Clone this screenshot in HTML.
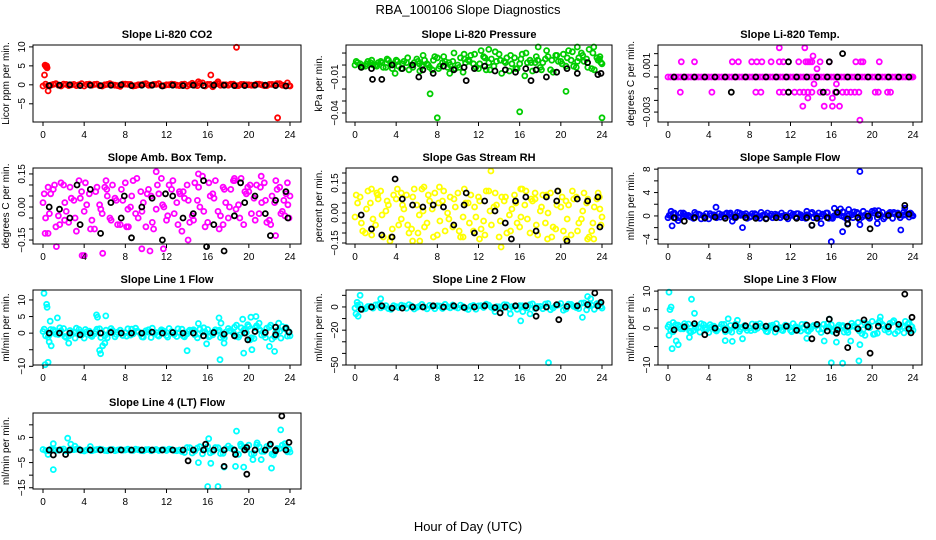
<!DOCTYPE html>
<html><head><meta charset="utf-8"><style>
html,body{margin:0;padding:0;background:#fff;}
svg{display:block;font-family:"Liberation Sans",sans-serif;}
</style></head><body>
<svg id="chart" width="936" height="540" viewBox="0 0 936 540" xmlns="http://www.w3.org/2000/svg">
<rect x="0" y="0" width="936" height="540" fill="#fff"/>
<text x="468" y="14" text-anchor="middle" font-size="13">RBA_100106  Slope Diagnostics</text>
<text x="468" y="531" text-anchor="middle" font-size="13">Hour of Day (UTC)</text>
</svg>
<script>
const hoursA = [0,0.5,1,1.5,2,2.5,3,3.5,4,4.5,5,5.5,6,6.5,7,7.5,8,8.5,9,9.5,10,10.5,11,11.5,12,12.5,13,13.5,14,14.5,15,15.5,16,16.5,17,17.5,18,18.5,19,19.5,20,20.5,21,21.5,22,22.5,23,23.5,24];
const hoursB = [0.25,0.75,1.25,1.75,2.25,2.75,3.25,3.75,4.25,4.75,5.25,5.75,6.25,6.75,7.25,7.75,8.25,8.75,9.25,9.75,10.25,10.75,11.25,11.75,12.25,12.75,13.25,13.75,14.25,14.75,15.25,15.75,16.25,16.75,17.25,17.75,18.25,18.75,19.25,19.75,20.25,20.75,21.25,21.75,22.25,22.75,23.25,23.75,23.9];
const hoursC = [0.12,0.62,1.12,1.62,2.12,2.62,3.12,3.62,4.12,4.62,5.12,5.62,6.12,6.62,7.12,7.62,8.12,8.62,9.12,9.62,10.12,10.62,11.12,11.62,12.12,12.62,13.12,13.62,14.12,14.62,15.12,15.62,16.12,16.62,17.12,17.62,18.12,18.62,19.12,19.62,20.12,20.62,21.12,21.62,22.12,22.62,23.12,23.62,23.8];
const hoursBlack = [0.6,1.6,2.6,3.6,4.6,5.6,6.6,7.6,8.6,9.6,10.6,11.6,12.6,13.6,14.6,15.6,16.6,17.6,18.6,19.6,20.6,21.6,22.6,23.6];
const xTicks = [0,4,8,12,16,20,24];

// P1 CO2
const co2A = [-0.3,-0.2,0.1,-0.1,0.2,-0.2,0.1,0,-0.3,0.2,0.1,-0.2,0,0.3,-0.1,-0.4,0.2,0.1,-0.2,0,0.3,-0.1,0.1,-0.2,0,0.2,-0.1,0.1,-0.3,0.4,-0.2,0.5,0.1,-0.5,0.3,0,-0.1,0.2,-0.2,0.1,0,-0.1,0.2,-0.2,0.1,0,0.3,-0.2,-0.3];
const co2B = [0.2,-0.1,0.3,-0.3,0.1,0,-0.2,0.3,0.1,-0.1,0.2,-0.3,0.1,0,-0.2,0.2,0.1,-0.3,0,0.2,-0.1,0.1,0.3,-0.2,0,0.1,-0.2,0.2,0,-0.1,0.4,-0.3,0.1,0.2,-0.1,0,0.2,-0.2,0.1,0,-0.1,0.2,0,-0.2,0.1,0.3,-0.1,0.5,-0.2];
const co2C = [];
const co2OutH = [0.2,0.3,0.35,0.4,0.15,0.5,16.3,18.8,22.8,15.1,17];
const co2OutV = [5.2,4.8,5.0,4.5,2.6,-1.6,2.6,9.9,-8.7,0.8,0.8];
const co2Black = [-0.2,-0.1,0,-0.2,-0.1,-0.2,-0.1,0,-0.2,-0.1,-0.1,-0.3,-0.1,-0.2,-0.1,-0.2,-0.1,-0.1,-0.2,-0.2,-0.1,-0.1,-0.2,-0.3];
const co2BOutH = [], co2BOutV = [];

// P2 Pressure
const presA = [0.000,0.001,-0.001,0.002,0.000,0.003,-0.002,0.001,0.004,-0.003,0.002,0.000,0.005,-0.001,0.001,-0.004,0.006,0.002,-0.002,0.003,0.000,-0.006,0.004,0.001,-0.003,0.007,0.002,-0.001,0.009,0.003,-0.005,0.006,0.001,-0.009,0.004,0.002,-0.002,0.005,-0.004,0.008,0.003,-0.001,0.004,-0.002,0.010,0.005,-0.003,0.006,0.001];
const presB = [0.002,-0.001,0.003,0.000,0.002,-0.002,0.004,0.001,-0.001,0.003,-0.004,0.002,0.001,0.004,-0.002,0.007,-0.001,0.003,0.000,-0.003,0.006,0.002,0.008,-0.002,0.012,-0.004,0.005,0.003,-0.007,0.006,0.001,-0.003,0.009,0.002,-0.005,0.004,0.002,0.007,-0.006,0.003,0.009,0.012,-0.001,0.006,0.003,0.013,-0.004,0.005,0.002];
const presC = [0.003,-0.002,0.001,0.004,-0.001,0.002,0.005,-0.003,0.003,0.001,0.006,-0.002,0.003,0.008,0.000,0.004,-0.003,0.007,0.002,0.010,-0.002,0.005,0.003,0.009,0.001,0.006,-0.004,0.011,0.004,0.002,0.008,-0.003,0.005,0.010,0.002,0.007,-0.004,0.012,0.004,0.008,0.001,0.006,0.011,0.003,0.008,-0.002,0.010,0.004,0.007];
const presOutH = [6.3,7.3,8.0,16,20.5,24,17.8,21.6,23.2,13,3.9,9.2,10.6];
const presOutV = [-0.005,-0.024,-0.044,-0.039,-0.022,-0.044,0.015,0.015,0.015,0.013,-0.007,-0.007,0.009];
const presBlack = [-0.002,-0.003,-0.012,0.000,-0.003,0.000,-0.004,-0.007,-0.001,-0.004,-0.002,-0.003,-0.001,-0.005,-0.004,-0.006,-0.003,-0.004,-0.010,-0.006,-0.003,-0.007,0.002,-0.008];
const presBOutH = [1.7,10.8,17.1,6.2,23.9], presBOutV = [-0.012,-0.013,-0.013,-0.010,-0.007];

// P3 Li-820 temp
const tempA = [0,0,0,0,0,0,0,0,0,0,0,0,0,0,0,0,0,0,0,0,0,0,0,0,0,0,0,0,0,0,0,0,0,0,0,0,0,0,0,0,0,0,0,0,0,0,0,0,0];
const tempB = [0,0,0,0,0,0,0,0,0,0,0,0,0,0,0,0,0,0,0,0,0,0,0,0,0,0,0,0,0,0,0,0,0,0,0,0,0,0,0,0,0,0,0,0,0,0,0,0,0];
const tempC = [];
const tempOutH = [1.3,2.6,6.3,6.9,8.2,8.7,9.2,10.1,10.9,11.3,12.8,13.5,13.7,13.9,14.1,14.9,15.8,18.4,18.9,19.1,20.7,1.2,4.3,8.6,9.1,10.9,11.3,11.8,12.4,12.9,13.3,13.7,14.1,14.9,15.6,16.4,17.1,17.5,17.9,18.3,18.7,20.3,20.6,21.5,21.8,10.9,13.4,14.2,14.6,14.3,13.7,16.1,13.2,15.3,16.1,16.8,16.5,18.8];
const tempOutV = [0.0013,0.0013,0.0013,0.0013,0.0013,0.0013,0.0013,0.0013,0.0013,0.0013,0.0013,0.0013,0.0013,0.0013,0.0013,0.0013,0.0013,0.0013,0.0013,0.0013,0.0013,-0.0013,-0.0013,-0.0013,-0.0013,-0.0013,-0.0013,-0.0013,-0.0013,-0.0013,-0.0013,-0.0013,-0.0013,-0.0013,-0.0013,-0.0013,-0.0013,-0.0013,-0.0013,-0.0013,-0.0013,-0.0013,-0.0013,-0.0013,-0.0013,0.0025,0.0025,0.0018,0.0007,-0.0006,-0.0018,-0.0018,-0.0025,-0.0025,-0.0025,-0.0025,-0.0006,-0.0037];
const tempBlack = [0,0,0,0,0,0,0,0,0,0,0,0,0,0,0,0,0,0,0,0,0,0,0,0];
const tempBOutH = [6.2,11.8,15.2,16.5,11.8,15.8,17.1], tempBOutV = [-0.0013,-0.0013,-0.0013,-0.0013,0.0013,0.0013,0.0020];

// P4 Amb box temp
const ambA = [0.02,-0.12,0.08,-0.04,0.10,-0.07,0.03,0.12,-0.02,0.06,-0.10,0.01,0.09,-0.05,0.04,-0.08,0.11,0.00,-0.03,0.07,-0.09,0.05,-0.01,0.13,-0.06,0.08,0.02,-0.11,0.10,-0.04,0.03,0.14,-0.07,0.06,-0.02,0.09,-0.05,0.12,0.01,-0.08,0.07,0.04,-0.03,0.11,-0.06,0.02,0.09,-0.04,0.05];
const ambB = [-0.05,0.06,-0.09,0.11,-0.02,0.04,-0.11,0.07,0.01,-0.06,0.09,-0.03,0.05,0.10,-0.08,0.03,-0.01,0.12,-0.05,0.02,0.08,-0.10,0.06,0.00,0.10,-0.03,0.07,0.04,-0.07,0.11,0.00,-0.09,0.05,0.12,-0.04,0.02,0.08,-0.01,0.13,0.06,-0.03,0.10,0.02,-0.07,0.05,0.08,-0.02,0.11,-0.05];
const ambC = [0.06,-0.03,0.10,-0.08,0.02,0.09,-0.05,0.04,0.11,-0.10,0.07,-0.01,0.12,-0.06,0.03,0.08,-0.09,0.05,0.13,-0.02,0.06,-0.07,0.10,0.01,-0.04,0.12,-0.08,0.07,0.03,-0.06,0.09,-0.02,0.11,0.04,-0.10,0.08,0.00,0.12,-0.05,0.07,0.10,-0.06,0.09,0.03,-0.08,0.12,-0.03,0.06,0.01];
const ambOutH = [0.2,1.3,3.8,4.0,5.8,11.0,9.6,10.4,11.7,15.1,18.6,21.2,14.1,22.6,0.5,2.1,6.2,8.3,13.3,17.5,19.9,23.4];
const ambOutV = [-0.12,-0.18,-0.22,-0.22,-0.21,0.16,-0.19,-0.2,-0.19,0.15,0.13,0.14,-0.15,-0.13,0.09,-0.06,0.08,-0.09,0.06,-0.08,0.09,0.03];
const ambBlack = [0.00,-0.01,-0.05,-0.08,0.08,-0.12,0.02,-0.05,-0.14,0.00,0.04,-0.15,0.05,-0.05,-0.03,0.12,-0.08,-0.20,-0.04,0.02,0.05,-0.03,0.03,0.07];
const ambBOutH = [3.3,7.9,11.9,15.9,19.2,22.1,23.8], ambBOutV = [0.10,0.05,0.06,-0.18,0.11,-0.13,-0.05];

// P5 RH
const rhA = [-0.02,0.08,-0.10,0.05,-0.06,0.11,0.01,-0.12,0.07,-0.03,0.09,-0.08,0.04,0.12,-0.05,0.02,-0.11,0.06,0.00,-0.07,0.10,-0.02,0.05,-0.09,0.08,-0.04,0.11,0.03,-0.12,0.06,-0.01,0.09,-0.07,0.04,-0.10,0.07,0.01,-0.05,0.10,-0.08,0.03,0.06,-0.11,0.08,-0.03,0.05,-0.09,0.07,-0.02];
const rhB = [0.05,-0.09,0.11,-0.03,0.07,-0.12,0.04,0.09,-0.06,0.02,-0.10,0.12,-0.01,-0.07,0.06,0.10,-0.04,-0.09,0.08,0.03,-0.12,0.05,0.09,-0.02,-0.08,0.11,-0.06,0.04,0.08,-0.10,0.02,-0.05,0.12,-0.03,0.06,-0.11,0.09,0.00,-0.07,0.11,-0.09,0.04,0.07,-0.05,0.10,-0.12,0.03,0.08,-0.06];
const rhC = [0.09,-0.05,0.02,-0.11,0.10,-0.01,0.06,-0.08,0.12,0.04,-0.06,0.08,-0.10,0.01,0.09,-0.12,0.05,0.11,-0.03,0.07,-0.09,0.12,-0.05,0.03,0.06,-0.11,0.01,0.10,-0.04,0.08,-0.09,0.05,-0.02,0.11,0.07,-0.06,0.03,0.09,-0.12,0.04,0.08,-0.03,0.11,-0.09,0.01,0.07,-0.05,0.10,0.02];
const rhOutH = [13.2,14.2,6.7,1.6,8.2,3.4,5.6,6.3,10.5,12.1,18.7,20.5,22.6,23.2,4.5,16.1,17.5,2.2];
const rhOutV = [0.21,-0.17,0.13,0.12,0.13,-0.14,-0.14,-0.14,-0.12,-0.13,-0.13,-0.13,-0.13,-0.13,0.10,0.12,0.10,0.09];
const rhBlack = [-0.01,-0.08,-0.11,-0.12,0.07,0.04,0.03,0.04,0.03,-0.06,0.04,-0.10,0.06,0.01,-0.05,0.06,0.08,-0.09,0.08,0.06,-0.14,0.07,0.06,0.08];
const rhBOutH = [3.9,10.8,19.7,15.2,23.8], rhBOutV = [0.17,0.10,0.11,-0.13,-0.07];

// P6 Sample flow
const sfA = [-0.3,0.4,-0.2,0.5,0.1,-0.4,0.3,0.0,-0.5,0.2,0.4,-0.1,0.3,-0.3,0.5,0.1,-0.2,0.4,-0.4,0.2,0.0,0.3,-0.3,0.1,0.5,-0.2,0.2,-0.4,0.4,0.1,-0.1,0.5,-0.3,0.3,0.0,-0.5,0.2,0.6,-0.2,0.4,0.8,-0.3,0.6,0.2,-0.4,0.5,0.1,0.3,0.0];
const sfB = [0.2,-0.4,0.5,0.0,-0.2,0.3,-0.5,0.4,0.1,-0.3,0.2,0.5,-0.1,0.0,0.3,-0.4,0.4,-0.2,0.1,0.5,-0.3,0.2,0.0,-0.5,0.3,0.4,-0.1,0.1,-0.3,0.5,0.2,-0.4,0.0,0.4,-0.2,0.3,0.7,-0.6,0.1,-0.4,0.9,0.3,-0.2,0.6,0.4,-0.3,0.2,0.5,0.1];
const sfC = [0.1,0.5,-0.3,0.3,-0.1,0.6,0.2,-0.4,0.4,0.0,-0.2,0.3,0.5,-0.3,0.1,0.4,-0.1,0.2,0.6,-0.4,0.3,0.0,0.5,-0.2,0.1,0.4,-0.3,0.2,0.6,-0.1,0.3,0.5,-0.4,0.2,0.7,0.0,-0.3,0.4,0.8,-0.2,0.5,0.9,-0.5,0.4,0.6,0.1,0.7,-0.2,0.4];
const sfOutH = [0.4,1.0,4.7,7.3,13.6,14.1,15,16,16.3,17.1,17.6,18.8,18.8,20.5,22.8,23.2,16.9,17.7,0.3,6.3,6.8];
const sfOutV = [-1.7,-0.8,1.5,-2,0.8,-1.6,-1.3,-4.4,1.3,-2.7,-1.3,7.6,-1.5,-1.3,-2.4,1.3,1.2,1.1,0.8,-0.9,0.6];
const sfBlack = [-0.3,-0.9,-0.3,-0.3,-0.2,-0.4,-0.2,-0.3,-0.4,-0.5,-0.3,-0.2,-0.4,-0.3,-0.4,-0.3,0.6,-0.5,-0.3,0.0,0.2,0.1,0.2,0.3];
const sfBOutH = [17.6,19.8,23.2,14.1], sfBOutV = [-1.4,-2.2,1.8,-1.6];

// P7 Line 1 flow
const l1A = [0.5,-1.2,1.0,-0.4,1.4,-0.9,0.3,1.1,-1.5,0.6,-0.2,1.3,-0.8,0.4,-1.1,0.9,0.1,-0.6,1.5,-0.3,0.7,-1.3,0.2,1.0,-0.7,0.5,-1.0,1.2,-0.2,0.8,-1.4,0.3,1.1,-0.5,0.6,-0.9,1.4,0.0,-1.2,0.9,2.0,-1.6,1.2,-0.4,1.8,-1.1,0.5,1.3,-0.8];
const l1B = [-0.8,1.1,-0.3,0.7,-1.3,0.2,1.5,-0.6,0.4,-1.0,1.2,0.0,-1.4,0.8,0.3,-0.7,1.3,-0.2,0.5,-1.2,1.0,0.1,-0.9,0.6,1.4,-0.4,0.2,-1.1,0.9,-0.5,1.2,0.4,-0.8,1.0,-1.3,0.3,0.7,-1.0,1.6,0.2,-1.4,2.2,-0.6,1.5,-1.8,0.8,2.0,-0.9,0.4];
const l1C = [1.2,-0.5,0.4,1.6,-1.0,0.8,-1.5,0.2,1.1,-0.7,0.5,-1.3,0.9,1.4,-0.4,0.1,-0.9,1.2,0.6,-1.1,0.3,1.5,-0.6,0.8,-1.2,0.2,1.3,-0.8,0.5,1.0,-0.3,1.6,-1.1,0.4,0.9,-1.5,0.7,1.8,-0.5,1.2,-2.0,1.6,0.8,-1.3,2.4,0.3,-1.5,1.7,0.6];
const l1OutH = [0.1,0.2,0.35,0.4,0.5,0.7,0.8,1.4,0.6,2.5,5.2,5.3,5.5,5.6,6.1,6.0,5.8,14,15.1,15.9,17.1,17.2,17.3,17.6,19.4,19.5,20.2,20.3,20.7,21,22,22.5,22.9,19.9,18.8];
const l1OutV = [12,-9.5,8.7,7.8,-8.8,3.6,-3.8,4.6,-2.6,-3,5.5,4.8,-5.2,-6.2,5.2,-3,-3.8,-5.3,2.9,-3.2,4.6,-8,3,-3,4.2,-6,4.8,-5,5.0,3,-4,-5.5,3,2.5,2.4];
const l1Black = [0,0,0,-0.5,0,0,0.2,0,0,0,0.3,0,0.2,0,0,-0.8,0.2,-0.3,-0.8,0,0.5,0.2,1.8,1.5];
const l1BOutH = [19.9,22.6,23.9], l1BOutV = [-2,-0.5,0.3];

// P8 Line 2 flow
const l2A = [-1,2,-1.5,0.5,1.8,-0.8,1.2,-2,0.3,1.5,-1.1,0.8,-0.4,2.2,-1.6,0.6,1.0,-1.3,0.2,1.7,-0.9,0.4,-2.2,1.3,0.9,-0.5,1.6,-1.2,0.1,2.0,-1.7,0.7,1.1,-0.3,1.9,-1.4,0.5,2.5,-2.4,1.0,3,-1.8,2.2,-0.6,3.2,-2.5,1.4,2.8,-1.0];
const l2B = [1.5,-2,0.4,-1.0,2.1,0.3,-1.4,1.1,-0.6,0.9,2.0,-1.8,0.5,-0.2,1.3,-1.5,0.8,2.3,-0.7,0.0,1.6,-1.1,0.6,-1.9,1.2,2.4,-0.4,0.3,-1.3,1.8,0.2,-2.0,1.0,-0.8,2.6,0.4,-1.5,3.0,-0.9,1.7,-2.8,2.4,0.6,-1.4,3.5,0.8,-2.0,2.9,0.5];
const l2C = [];
const l2OutH = [0.1,0.3,0.5,0.2,2.5,15.1,16.1,17,18.8,22.1,22.6,22.9,13.6,16.3];
const l2OutV = [-6,-8,10,4,7,-6,-12,-6,-48,-9,9,7,-4,-4];
const l2Black = [-2,0,1,-1,-1,0,0,1,0,1,-0.5,0,1,-0.5,0,1,1,-1,0,2,0.5,1,2,1];
const l2BOutH = [14.1,17.6,19.8,23.3,23.9], l2BOutV = [-5,-8,-11,12,4];

// P9 Line 3 flow
const l3A = [0.3,-1.0,0.8,-0.2,1.1,-0.7,0.2,0.9,-1.2,0.5,-0.1,1.0,-0.6,0.3,-0.9,0.7,0.0,-0.5,1.2,-0.2,0.6,-1.1,0.1,0.8,-0.6,0.4,-0.8,1.0,-0.2,0.6,-1.2,0.2,0.9,-0.4,0.5,-0.7,1.3,0.0,-1.5,0.7,1.8,-1.4,1.0,-0.3,1.6,-0.9,0.4,1.1,-0.6];
const l3B = [-0.6,0.9,-0.2,0.6,-1.1,0.1,1.2,-0.5,0.3,-0.8,1.0,0.0,-1.1,0.6,0.2,-0.6,1.1,-0.1,0.4,-1.0,0.8,0.0,-0.7,0.5,1.2,-0.3,0.1,-0.9,0.7,-0.4,1.0,0.3,-0.6,0.8,-1.1,0.2,0.6,-0.8,1.4,0.1,-1.6,2.0,-0.5,1.3,-1.5,0.6,1.8,-0.7,0.3];
const l3C = [0.9,-0.4,0.3,1.2,-0.8,0.6,-1.1,0.1,0.9,-0.5,0.3,-1.0,0.7,1.1,-0.3,0.1,-0.7,0.9,0.5,-0.9,0.2,1.2,-0.5,0.6,-1.0,0.1,1.0,-0.6,0.4,0.8,-0.2,1.2,-0.9,0.3,0.7,-1.2,0.5,1.5,-0.4,1.0,-1.7,1.4,0.6,-1.1,2.0,0.2,-1.3,1.4,0.5];
const l3OutH = [0.1,0.2,0.3,0.4,0.8,1.0,0.1,2.3,2.6,2.1,5.6,6.3,7.3,13.6,15.3,16,16.5,17.1,17.9,18.7,18.8,19.3,20.8,15.8,5.9,6.8,0.5];
const l3OutV = [9.7,5,5.7,-5.6,-3.5,-4.5,-2,7.8,4.0,-2.5,-3.4,-3.6,-2.9,-2.8,-3.5,-9.4,-3.8,-9.5,-3.5,-8.9,-4.5,-2,3,2.4,2.5,2.1,1.5];
const l3Black = [-0.5,0.3,1.2,-1.8,0.0,-0.5,0.7,0.6,0.5,0.5,-0.2,0.5,-0.6,0.8,1.0,-0.8,-0.5,0.5,-0.2,0.3,0.5,0.4,1.0,-0.2];
const l3BOutH = [14.1,17.6,19.8,23.2,23.9,23.8,19.2,16.5,15.8], l3BOutV = [-2.9,-5.3,-6.8,9.2,2.9,-1.3,2.2,-1.4,2.4];

// P10 Line 4 flow
const l4A = [0.2,-0.3,0.3,-0.1,0.4,-0.2,0.1,0.3,-0.4,0.2,0.0,0.3,-0.2,0.1,-0.3,0.2,0.0,-0.1,0.3,-0.2,0.1,-0.3,0.2,0.0,-0.2,0.1,-0.3,-0.6,1.0,-1.2,0.8,-1.5,1.4,-0.6,0.9,-1.3,1.6,0.2,-1.7,1.1,1.9,-1.4,1.3,-0.5,1.7,-1.0,0.6,1.2,-0.8];
const l4B = [-0.2,0.3,-0.1,0.2,-0.4,0.1,0.3,-0.2,0.0,-0.3,0.2,0.1,-0.3,0.2,0.0,-0.1,0.3,-0.2,0.1,-0.3,0.2,0.0,-0.2,0.1,0.3,-0.2,0.0,-1.0,0.9,-0.4,1.3,0.4,-1.1,1.0,-1.4,0.5,0.7,-1.2,1.5,0.2,-1.6,2.0,-0.5,1.4,-1.6,0.6,1.9,-0.7,0.3];
const l4C = [];
const l4OutH = [1.0,1.0,2.4,2.7,3.1,0.5,4.6,15.1,16,16.1,16.3,17,17.6,18.7,18.8,19.5,19.2,20.4,21.2,22.2,22.4,23.1,23.5,20.8];
const l4OutV = [2.5,-7.8,4.7,2.3,1.5,-1.8,1.4,-5,-14.5,4.5,-5.3,-14.5,-6.8,-6.5,7.5,-6.8,2.3,-3.8,-3.8,-7.2,-2,8,2.5,2.8];
const l4Black = [0,0,0,0,0,0,0,0,0,0,0,0,0,0,0,0,0,0,0,0,0,0,0,0];
const l4BOutH = [1.0,2.2,14.1,15.8,17.6,19.8,19.8,22.1,23.2,23.9,18.7,22.6], l4BOutV = [-2,-1.8,-4.3,2.3,-6.5,-9.6,1,2.3,13.5,3,-1.8,-0.3];

const cols = [[33,301,43,290],[346,612,355,602],[658,922,668,913]];
const rows = [[45,122],[168,244],[290,365],[413,489]];

const panels = [
 {id:'co2',title:'Slope Li-820 CO2',ylab:'Licor ppm per min.',c:0,r:0,dom:[10.5,-9.8],ticks:[-5,0,5,10],labels:{'10':'10','5':'5','0':'0','-5':'−5'},color:'#ff0000',A:co2A,B:co2B,C:co2C,oh:co2OutH,ov:co2OutV,blk:co2Black,bh:co2BOutH,bv:co2BOutV},
 {id:'pressure',title:'Slope Li-820 Pressure',ylab:'kPa per min.',c:1,r:0,dom:[0.0167,-0.0475],ticks:[0.01,0,-0.01,-0.02,-0.03,-0.04],labels:{'-0.01':'−0.01','-0.04':'−0.04'},color:'#00cd00',A:presA,B:presB,C:presC,oh:presOutH,ov:presOutV,blk:presBlack,bh:presBOutH,bv:presBOutV},
 {id:'li820-temp',title:'Slope Li-820 Temp.',ylab:'degrees C per min.',c:2,r:0,dom:[0.00274,-0.00385],ticks:[0.002,0.001,0,-0.001,-0.002,-0.003],labels:{'0.001':'0.001','-0.003':'−0.003'},color:'#ff00ff',A:tempA,B:tempB,C:tempC,oh:tempOutH,ov:tempOutV,blk:tempBlack,bh:tempBOutH,bv:tempBOutV},
 {id:'amb-box-temp',title:'Slope Amb. Box Temp.',ylab:'degrees C per min.',c:0,r:1,dom:[0.177,-0.168],ticks:[-0.15,-0.1,-0.05,0,0.05,0.1,0.15],labels:{'0.15':'0.15','0':'0.00','-0.15':'−0.15'},color:'#ff00ff',A:ambA,B:ambB,C:ambC,oh:ambOutH,ov:ambOutV,blk:ambBlack,bh:ambBOutH,bv:ambBOutV},
 {id:'gas-stream-rh',title:'Slope Gas Stream RH',ylab:'percent per min.',c:1,r:1,dom:[0.225,-0.155],ticks:[-0.15,-0.1,-0.05,0,0.05,0.1,0.15,0.2],labels:{'0.15':'0.15','0':'0.00','-0.15':'−0.15'},color:'#ffff00',A:rhA,B:rhB,C:rhC,oh:rhOutH,ov:rhOutV,blk:rhBlack,bh:rhBOutH,bv:rhBOutV},
 {id:'sample-flow',title:'Slope Sample Flow',ylab:'ml/min per min.',c:2,r:1,dom:[8.2,-4.8],ticks:[-4,-2,0,2,4,6,8],labels:{'8':'8','4':'4','0':'0','-4':'−4'},color:'#0000ff',A:sfA,B:sfB,C:sfC,oh:sfOutH,ov:sfOutV,blk:sfBlack,bh:sfBOutH,bv:sfBOutV},
 {id:'line1-flow',title:'Slope Line 1 Flow',ylab:'ml/min per min.',c:0,r:2,dom:[13,-9.6],ticks:[-10,-5,0,5,10],labels:{'10':'10','5':'5','0':'0','-10':'−10'},color:'#00ffff',A:l1A,B:l1B,C:l1C,oh:l1OutH,ov:l1OutV,blk:l1Black,bh:l1BOutH,bv:l1BOutV},
 {id:'line2-flow',title:'Slope Line 2 Flow',ylab:'ml/min per min.',c:1,r:2,dom:[14.6,-50],ticks:[-50,-40,-30,-20,-10,0,10],labels:{'0':'0','-20':'−20','-50':'−50'},color:'#00ffff',A:l2A,B:l2B,C:l2C,oh:l2OutH,ov:l2OutV,blk:l2Black,bh:l2BOutH,bv:l2BOutV},
 {id:'line3-flow',title:'Slope Line 3 Flow',ylab:'ml/min per min.',c:2,r:2,dom:[10.3,-10],ticks:[-10,-5,0,5,10],labels:{'10':'10','5':'5','0':'0','-10':'−10'},color:'#00ffff',A:l3A,B:l3B,C:l3C,oh:l3OutH,ov:l3OutV,blk:l3Black,bh:l3BOutH,bv:l3BOutV},
 {id:'line4-flow',title:'Slope Line 4 (LT) Flow',ylab:'ml/min per min.',c:0,r:3,dom:[14.7,-15.5],ticks:[-15,-10,-5,0,5,10],labels:{'5':'5','-5':'−5','-15':'−15'},color:'#00ffff',A:l4A,B:l4B,C:l4C,oh:l4OutH,ov:l4OutV,blk:l4Black,bh:l4BOutH,bv:l4BOutV}
];

const svg = document.getElementById('chart');
const NS = 'http://www.w3.org/2000/svg';
function mk(tag, attrs, parent){
  const e = document.createElementNS(NS, tag);
  for (const k in attrs) e.setAttribute(k, attrs[k]);
  parent.appendChild(e);
  return e;
}

panels.forEach(p => {
  const [L,R,x0,x24] = cols[p.c];
  const [T,B] = rows[p.r];
  const xs = h => x0 + (x24 - x0) * h / 24;
  const ys = v => T + (B - T) * (p.dom[0] - v) / (p.dom[0] - p.dom[1]);
  const g = mk('g', {}, svg);
  
  

  const t = mk('text', {x:(L+R)/2, y:T-7, 'text-anchor':'middle','font-size':'11','font-weight':'bold'}, g);
  t.textContent = p.title;
  
  

  const yl = mk('text', {x:L-24, y:(T+B)/2, 'text-anchor':'middle','font-size':'10', transform:`rotate(-90 ${L-24} ${(T+B)/2})`}, g);
  yl.textContent = p.ylab;
  
  

  const pts = mk('g', {fill:'none','stroke-width':'1.8'}, g);
  
  
  const dot = (h, v, col, name) => {
    const c = mk('circle', {cx:xs(h).toFixed(1), cy:ys(v).toFixed(1), r:'2.5', stroke:col}, pts);
    
    
  };
  p.A.forEach((v,i) => dot(hoursA[i], v, p.color, 'point'));
  p.B.forEach((v,i) => dot(hoursB[i], v, p.color, 'point'));
  p.C.forEach((v,i) => dot(hoursC[i], v, p.color, 'point'));
  p.oh.forEach((h,i) => dot(h, p.ov[i], p.color, 'outlier-point'));
  p.blk.forEach((v,i) => dot(hoursBlack[i], v, '#000', 'hourly-point'));
  p.bh.forEach((h,i) => dot(h, p.bv[i], '#000', 'hourly-point'));

  const box = mk('rect', {x:L, y:T, width:R-L, height:B-T, fill:'none', stroke:'#000','stroke-width':'1'}, g);
  
  

  const xa = mk('g', {stroke:'#000','stroke-width':'1'}, g);
  
  
  mk('line', {x1:xs(0), y1:B, x2:xs(24), y2:B}, xa);
  xTicks.forEach(h => {
    mk('line', {x1:xs(h), y1:B, x2:xs(h), y2:B+4}, xa);
    const tl = mk('text', {x:xs(h), y:B+16, 'text-anchor':'middle','font-size':'10', stroke:'none', fill:'#000'}, xa);
    tl.textContent = h;
    
    
  });

  const ya = mk('g', {stroke:'#000','stroke-width':'1'}, g);
  
  
  const tv = p.ticks;
  mk('line', {x1:L, y1:ys(Math.min(...tv)), x2:L, y2:ys(Math.max(...tv))}, ya);
  tv.forEach(v => {
    const y = ys(v);
    mk('line', {x1:L, y1:y, x2:L-4, y2:y}, ya);
    const key = String(v);
    if (p.labels[key] !== undefined) {
      const tl = mk('text', {x:L-8, y:y, 'text-anchor':'middle','font-size':'10', stroke:'none', fill:'#000', transform:`rotate(-90 ${L-8} ${y})`}, ya);
      tl.textContent = p.labels[key];
      
      
    }
  });
});
</script>
</body></html>
